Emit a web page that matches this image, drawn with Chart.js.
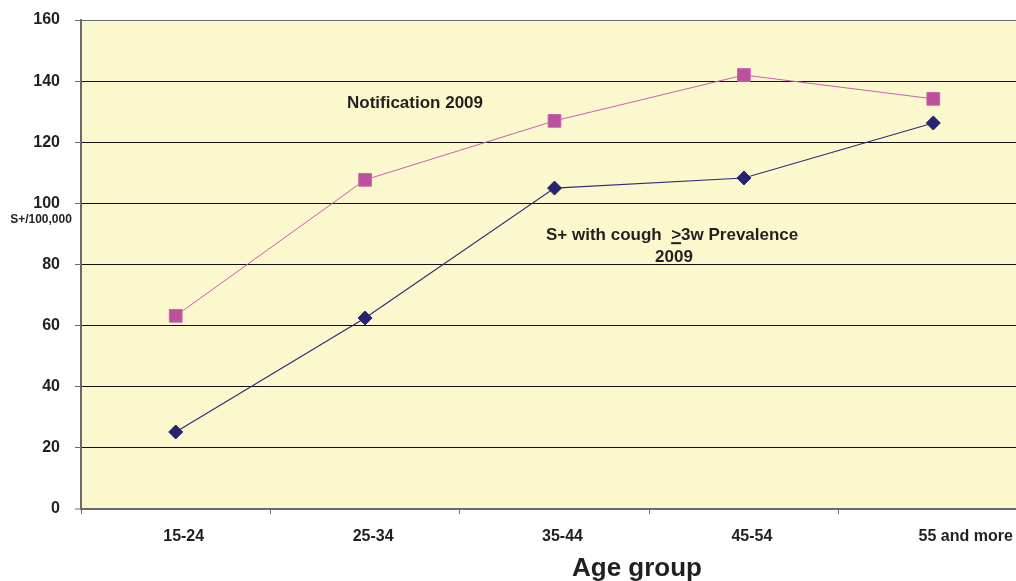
<!DOCTYPE html>
<html>
<head>
<meta charset="utf-8">
<script src="https://cdn.jsdelivr.net/npm/chart.js@4/dist/chart.umd.min.js"></script>
<style>
  html, body { margin: 0; padding: 0; overflow: hidden; background: #ffffff; }
  #wrap { position: absolute; left: 0; top: 0; width: 1040px; height: 581px; }
</style>
</head>
<body>
<div id="wrap"><canvas id="chart"></canvas></div>
<script>
// Age groups on the x axis
const ageGroups = ['15-24', '25-34', '35-44', '45-54', '55 and more'];
// Smear-positive notification rate, per 100,000
const notification2009 = [63.2, 107.7, 127.0, 142.0, 134.2];
// Smear-positive with cough >=3 weeks, prevalence per 100,000
const prevalence2009 = [25.2, 62.5, 105.0, 108.3, 126.3];
// Value axis ticks
const yTicks = [0, 20, 40, 60, 80, 100, 120, 140, 160];

const FONT = "'Liberation Sans', Arial, Helvetica, sans-serif";
const AXIS_GREY = '#6a6a6a';
const TEXT = '#231f20';

// Light yellow plot background
const plotBackground = {
  id: 'plotBackground',
  beforeDraw(chart) {
    const { ctx, chartArea: a } = chart;
    ctx.save();
    ctx.fillStyle = '#fbf8ce';
    ctx.fillRect(a.left, a.top, a.right - a.left, a.bottom - a.top);
    ctx.restore();
  }
};

// Series captions, unit label and axis title
const captions = {
  id: 'captions',
  afterDraw(chart) {
    const { ctx } = chart;
    const y = chart.scales.y;
    ctx.save();
    ctx.fillStyle = TEXT;
    ctx.textBaseline = 'middle';

    // unit label under the 100 tick
    ctx.font = 'bold 12px ' + FONT;
    ctx.textAlign = 'center';
    ctx.fillText('S+/100,000', 41, y.getPixelForValue(100) + 16);

    // notification caption
    ctx.font = 'bold 17px ' + FONT;
    ctx.textAlign = 'center';
    ctx.fillText('Notification 2009', 415, y.getPixelForValue(132.9));

    // prevalence caption, with underlined ">" standing for >=
    ctx.textAlign = 'left';
    const line1y = y.getPixelForValue(89.6);
    let cx = 546;
    const p1 = 'S+ with cough  ';
    ctx.fillText(p1, cx, line1y);
    cx += ctx.measureText(p1).width;
    ctx.fillText('>', cx, line1y);
    const gw = ctx.measureText('>').width;
    ctx.fillRect(cx, line1y + 7, gw, 2);
    cx += gw;
    ctx.fillText('3w Prevalence', cx, line1y);
    ctx.textAlign = 'center';
    ctx.fillText('2009', 674, y.getPixelForValue(82.2));

    // x axis title
    ctx.font = 'bold 26px ' + FONT;
    ctx.textBaseline = 'alphabetic';
    ctx.fillText('Age group', 637, 576);
    ctx.restore();
  }
};

new Chart(document.getElementById('chart'), {
  type: 'line',
  data: {
    labels: ageGroups,
    datasets: [
      {
        label: 'Notification 2009',
        data: notification2009,
        borderColor: '#c862ad',
        backgroundColor: '#bd4f9f',
        pointBorderColor: '#c766ac',
        borderWidth: 1,
        pointStyle: 'rect',
        pointRadius: 9,
        pointHoverRadius: 9,
        pointBorderWidth: 1,
        tension: 0
      },
      {
        label: 'S+ with cough >=3w Prevalence 2009',
        data: prevalence2009,
        borderColor: '#2e2e78',
        backgroundColor: '#25256f',
        pointBorderColor: '#25256f',
        borderWidth: 1.2,
        pointStyle: 'rectRot',
        pointRadius: 7,
        pointHoverRadius: 7,
        pointBorderWidth: 1,
        tension: 0
      }
    ]
  },
  options: {
    responsive: true,
    maintainAspectRatio: false,
    animation: false,
    layout: { padding: { top: 20, right: 12, bottom: 0, left: 0 } },
    plugins: {
      legend: { display: false },
      tooltip: { enabled: false }
    },
    scales: {
      x: {
        type: 'category',
        offset: true,
        afterFit(scale) { scale.height = 72; },
        grid: {
          offset: true,
          drawOnChartArea: false,
          drawTicks: true,
          tickLength: 5,
          tickColor: AXIS_GREY,
          tickWidth: 1
        },
        border: { display: true, color: AXIS_GREY, width: 2 },
        ticks: {
          color: TEXT,
          font: { family: FONT, size: 16, weight: 'bold' },
          padding: 13,
          labelOffset: 8,
          maxRotation: 0,
          autoSkip: false,
          // the last label sits further right, against the edge
          callback: (v, i) => (i === ageGroups.length - 1 ? '\u00a0'.repeat(11) : '') + ageGroups[i]
        }
      },
      y: {
        min: yTicks[0],
        max: yTicks[yTicks.length - 1],
        afterFit(scale) {
          scale.width = 81;
          scale.paddingTop = 0;
          scale.paddingBottom = 0;
        },
        afterBuildTicks(scale) { scale.ticks = yTicks.map(v => ({ value: v })); },
        grid: {
          color: ctx => (ctx.tick && (ctx.tick.value === 160 || ctx.tick.value === 0)) ? AXIS_GREY : '#111111',
          lineWidth: ctx => (ctx.tick && ctx.tick.value === 0) ? 0 : 1,
          drawTicks: true,
          tickLength: 6,
          tickColor: AXIS_GREY,
          tickWidth: 1
        },
        border: { display: true, color: AXIS_GREY, width: 2 },
        ticks: {
          color: TEXT,
          font: { family: FONT, size: 16, weight: 'bold' },
          padding: 15
        }
      }
    }
  },
  plugins: [plotBackground, captions]
});
</script>
</body>
</html>
